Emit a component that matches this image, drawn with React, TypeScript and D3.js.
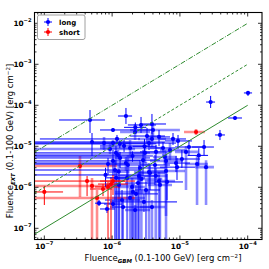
import React from 'react'
import * as d3 from 'd3'

// each burst: [GBM fluence, GBM low, GBM high, EXT fluence, EXT low, EXT high, faint]
// a low of 0 means the bar runs off the axis
const longBursts: number[][] = [
  [1.01e-4, 8.8e-5, 1.16e-4, 2.0e-4, 1.69e-4, 2.23e-4, 0],
  [2.84e-5, 2.43e-5, 3.3e-5, 1.2e-4, 8.6e-5, 1.69e-4, 0],
  [6.5e-5, 5.12e-5, 8.24e-5, 4.9e-5, 4.38e-5, 5.48e-5, 0],
  [3.9e-5, 3.3e-5, 4.62e-5, 1.89e-5, 1.42e-5, 2.5e-5, 0],
  [4.72e-7, 1.65e-7, 7.86e-7, 4.38e-5, 2.11e-5, 7.67e-5, 0],
  [1.6e-6, 1.22e-6, 1.97e-6, 5.48e-5, 3.5e-5, 8.6e-5, 0],
  [5.05e-7, 0, 6.03e-6, 1.27e-5, 5.8e-6, 2.11e-5, 0],
  [7.6e-7, 5.05e-7, 1.5e-6, 1.2e-5, 8.1e-6, 1.69e-5, 1],
  [1.03e-6, 6.63e-7, 4.01e-6, 2.5e-5, 2.23e-5, 2.79e-5, 0],
  [2.18e-6, 1.31e-6, 3.62e-6, 2.23e-5, 1.42e-5, 3.5e-5, 1],
  [2.67e-6, 1.71e-6, 4.44e-6, 3.31e-5, 2.11e-5, 5.19e-5, 0],
  [3.87e-6, 2.58e-6, 6.24e-6, 3.5e-5, 2.0e-5, 6.14e-5, 0],
  [4.01e-6, 1.84e-6, 1.0e-5, 2.5e-5, 1.69e-5, 3.5e-5, 1],
  [4.92e-6, 3.38e-6, 7.14e-6, 1.69e-5, 1.02e-5, 2.5e-5, 0],
  [3.87e-6, 2.41e-6, 6.24e-6, 1.51e-5, 9.6e-6, 2.23e-5, 1],
  [3.5e-6, 1.55e-6, 8.76e-6, 1.2e-5, 8.1e-6, 1.59e-5, 0],
  [1.03e-6, 0, 1.84e-6, 1.2e-5, 9.6e-6, 1.42e-5, 1],
  [7.91e-6, 5.08e-6, 1.23e-5, 1.51e-5, 1.08e-5, 2.11e-5, 0],
  [9.38e-6, 6.03e-6, 1.51e-5, 1.35e-5, 8.6e-6, 1.89e-5, 0],
  [4.44e-6, 2.58e-6, 7.65e-6, 7.3e-6, 4.6e-6, 1.08e-5, 0],
  [1.07e-5, 6.03e-6, 1.98e-5, 4.9e-6, 2.96e-6, 8.1e-6, 0],
  [6.24e-6, 3.62e-6, 1.11e-5, 4.4e-6, 2.0e-7, 7.3e-6, 1],
  [2.86e-6, 1.55e-6, 5.08e-6, 4.6e-6, 1.89e-6, 8.1e-6, 0],
  [3.05e-6, 1.84e-6, 5.44e-6, 6.9e-6, 3.9e-6, 1.08e-5, 1],
  [1.84e-6, 6.63e-7, 5.44e-6, 9.1e-6, 5.2e-6, 1.42e-5, 1],
  [1.14e-6, 0, 3.62e-6, 6.9e-6, 3.5e-6, 1.02e-5, 0],
  [1.03e-6, 0, 2.58e-6, 4.4e-6, 1.89e-6, 8.1e-6, 0],
  [3.27e-6, 1.84e-6, 6.03e-6, 1.78e-5, 1.2e-5, 2.79e-5, 0],
  [1.36e-5, 8.47e-6, 2.27e-5, 9.6e-6, 5.8e-6, 1.42e-5, 0],
  [2.27e-5, 1.51e-5, 3.18e-5, 9.6e-6, 6.1e-6, 1.42e-5, 0],
  [1.79e-5, 1.19e-5, 2.59e-5, 3.7e-6, 3.7e-7, 5.8e-6, 1],
  [2.43e-5, 1.67e-5, 3.18e-5, 3.1e-6, 3.7e-7, 4.6e-6, 1],
  [9.06e-6, 5.08e-6, 1.67e-5, 3.1e-6, 1.51e-6, 5.2e-6, 0],
  [6.24e-6, 3.38e-6, 1.19e-5, 2.5e-6, 0, 4.1e-6, 1],
  [3.5e-6, 2.1e-6, 6.03e-6, 2.36e-6, 0, 3.9e-6, 1],
  [2.49e-6, 1.31e-6, 5.08e-6, 1.89e-6, 0, 3.5e-6, 0],
  [4.92e-6, 3.05e-6, 8.47e-6, 1.42e-6, 0, 2.36e-6, 1],
  [6.45e-6, 4.29e-6, 1.11e-5, 1.35e-6, 4.9e-7, 2.11e-6, 0],
  [2.95e-6, 9.31e-7, 9.06e-6, 4.4e-7, 2.5e-7, 6.9e-7, 0],
  [2.25e-6, 1.1e-6, 4.75e-6, 6.9e-7, 0, 1.14e-6, 0],
  [8.76e-6, 6.03e-6, 1.41e-5, 3.9e-6, 2.36e-6, 5.8e-6, 0],
  [3.62e-6, 2.18e-6, 6.03e-6, 2.23e-6, 8.6e-7, 3.5e-6, 0],
  [5.08e-6, 3.38e-6, 7.65e-6, 1.14e-6, 0, 1.69e-6, 1],
  [2.41e-6, 1.55e-6, 4.29e-6, 1.27e-6, 0, 2.0e-6, 0],
  [2.03e-6, 1.1e-6, 3.62e-6, 7.7e-7, 0, 1.2e-6, 1],
  [1.4e-6, 7.86e-7, 2.58e-6, 4.9e-7, 0, 8.6e-7, 0],
  [1.84e-6, 9.97e-7, 3.05e-6, 5.5e-7, 0, 9.6e-7, 1],
  [3.87e-6, 2.58e-6, 6.03e-6, 3.3e-7, 0, 4.9e-7, 1],
  [1.45e-6, 9.31e-7, 3.87e-6, 3.3e-7, 0, 4.9e-7, 0],
  [1.1e-6, 0, 2.58e-6, 2.64e-6, 0, 4.6e-6, 0],
  [1.5e-6, 6.63e-7, 3.62e-6, 1.02e-5, 7.3e-6, 1.42e-5, 0],
  [1.97e-6, 1.22e-6, 3.05e-6, 1.02e-6, 0, 1.69e-6, 1],
  [1.03e-6, 7.6e-7, 1.4e-6, 3.9e-7, 3.1e-7, 4.9e-7, 0],
  [8.41e-7, 6.63e-7, 1.1e-6, 2.96e-7, 2.36e-7, 3.7e-7, 0],
  [6.41e-7, 5.6e-7, 1.07e-6, 4.1e-7, 3.5e-7, 4.9e-7, 0],
  [9.31e-7, 0, 2.18e-6, 8.6e-6, 6.5e-6, 1.14e-5, 1],
  [1.22e-6, 0, 3.05e-6, 6.1e-6, 4.6e-6, 8.1e-6, 1],
  [1.31e-6, 0, 3.62e-6, 5.2e-6, 2.96e-6, 7.3e-6, 0],
  [8.7e-7, 0, 1.55e-6, 3.7e-6, 2.0e-6, 5.2e-6, 0],
  [1.18e-6, 8.6e-8, 2.58e-6, 1.51e-5, 1.2e-5, 1.89e-5, 0],
  [1.71e-6, 9.31e-7, 3.62e-6, 3.5e-6, 1.51e-6, 6.1e-6, 1],
  [2.58e-6, 1.31e-6, 6.03e-6, 2.96e-6, 8.6e-7, 4.6e-6, 0],
  [4.29e-6, 2.58e-6, 7.14e-6, 3.5e-6, 1.14e-6, 6.1e-6, 0],
  [7.14e-6, 5.08e-6, 1.19e-5, 8.1e-6, 4.6e-6, 1.2e-5, 1],
  [1.66e-6, 9.31e-7, 3.05e-6, 1.69e-6, 0, 2.64e-6, 0],
  [1.26e-6, 7.86e-7, 2.18e-6, 1.14e-6, 0, 2.0e-6, 1],
  [3.16e-6, 2.18e-6, 5.08e-6, 8.6e-7, 0, 1.35e-6, 0],
  [2.18e-6, 1.55e-6, 3.62e-6, 2.79e-7, 0, 3.7e-7, 1],
  [5.63e-6, 3.62e-6, 8.47e-6, 9.1e-6, 5.8e-6, 1.27e-5, 0],
  [1.23e-5, 8.47e-6, 1.85e-5, 7.3e-6, 8.6e-7, 1.02e-5, 1],
  [1.3e-6, 0, 4.5e-6, 1.15e-5, 9.0e-6, 1.4e-5, 0],
  [2.0e-6, 0, 4.0e-6, 5.8e-6, 4.2e-6, 7.5e-6, 0],
  [1.6e-6, 0, 3.3e-6, 3.9e-6, 2.5e-6, 5.5e-6, 1],
  [2.7e-6, 1.2e-6, 5.5e-6, 1.6e-6, 0, 2.6e-6, 1],
  [4.4e-6, 2.9e-6, 6.5e-6, 1.9e-6, 0, 3.0e-6, 1],
  [1.15e-6, 8.0e-7, 1.6e-6, 1.7e-6, 0, 2.8e-6, 0],
  [3.0e-6, 2.0e-6, 4.5e-6, 1.0e-5, 6.5e-6, 1.5e-5, 0],
  [6.0e-6, 4.0e-6, 9.0e-6, 5.5e-6, 3.5e-6, 8.0e-6, 1],
  [1.9e-5, 1.3e-5, 2.6e-5, 6.0e-6, 3.3e-6, 9.0e-6, 0],
  [8.0e-7, 0, 2.8e-6, 2.0e-6, 1.0e-6, 3.0e-6, 0],
  [2.2e-6, 1.5e-6, 3.2e-6, 2.9e-5, 2.2e-5, 3.8e-5, 0],
  [1.25e-6, 9.0e-7, 1.8e-6, 2.4e-6, 0, 3.5e-6, 1],
]

const shortBursts: number[][] = [
  [3.36e-7, 0, 1.18e-6, 3.3e-6, 5.8e-7, 5.8e-6, 1],
  [1.0e-7, 0, 1.89e-7, 7.7e-7, 3.7e-7, 1.08e-6, 0],
  [4.27e-7, 0, 2.18e-6, 1.42e-6, 6.1e-7, 1.89e-6, 0],
  [5.05e-7, 0, 9.31e-7, 1.08e-6, 0, 1.69e-6, 1],
  [5.99e-7, 0, 2.18e-6, 5.5e-7, 0, 8.6e-7, 1],
  [8.7e-7, 5.6e-7, 1.31e-6, 1.02e-6, 0, 1.35e-6, 0],
  [1.03e-6, 6.63e-7, 1.55e-6, 1.42e-6, 6.5e-7, 2.0e-6, 0],
  [9.63e-7, 6.2e-7, 1.71e-6, 1.2e-6, 0, 1.69e-6, 0],
  [7.34e-7, 4.72e-7, 9.97e-7, 9.1e-7, 6.1e-7, 1.2e-6, 0],
  [1.73e-5, 1.15e-5, 2.34e-5, 2.23e-5, 1.89e-5, 2.64e-5, 1],
]

// EXT = k * GBM reference lines
const ratioLines = [1, 10, 100]
const ratioDash = ['none', '3,2', '5,1.5,1,1.5']

const xTicks = [1e-7, 1e-6, 1e-5, 1e-4]
const yTicks = [1e-7, 1e-6, 1e-5, 1e-4, 1e-3, 1e-2]
const xDomain = [10 ** -7.145, 10 ** -3.789]
const yDomain = [10 ** -7.273, 10 ** -1.737]

const series = [
  { name: 'long', color: '#0000ff', data: longBursts },
  { name: 'short', color: '#ff0000', data: shortBursts },
]

const font = 'DejaVu Sans, sans-serif'

const minorTicks = (dom: number[]) => {
  const out: number[] = []
  for (let e = Math.floor(Math.log10(dom[0])); e <= Math.ceil(Math.log10(dom[1])); e++) {
    for (let k = 2; k < 10; k++) {
      const v = k * 10 ** e
      if (v > dom[0] && v < dom[1]) out.push(v)
    }
  }
  return out
}

const Pow = ({ v }: { v: number }) => (
  <>
    10<tspan dy={-3.5} fontSize={5.2}>{'\u2212' + Math.abs(Math.round(Math.log10(v)))}</tspan>
  </>
)

export default function App() {
  const left = 34.5,
    right = 262,
    top = 12.5,
    bottom = 239.5

  const x = d3.scaleLog().domain(xDomain).range([left, right])
  const y = d3.scaleLog().domain(yDomain).range([bottom, top])

  // clamp error bar ends that run off the axes
  const cx = (v: number) => x(Math.min(Math.max(v, xDomain[0]), xDomain[1]))
  const cy = (v: number) => y(Math.min(Math.max(v, yDomain[0]), yDomain[1]))

  const line = d3.line<number>().x(d => x(d))
  const xEnd = [xDomain[0], 1e-4]

  const bars = (faint: number) =>
    series.map(s =>
      s.data
        .filter(d => d[6] === faint)
        .map((d, i) => (
          <g
            key={s.name + i}
            stroke={s.color}
            strokeOpacity={faint ? 0.45 : 1}
            strokeWidth={faint ? 2.6 : 1}
          >
            <line x1={cx(d[1])} x2={cx(d[2])} y1={y(d[3])} y2={y(d[3])} />
            <line x1={x(d[0])} x2={x(d[0])} y1={cy(d[4])} y2={cy(d[5])} />
          </g>
        ))
    )

  const xMinor = minorTicks(xDomain)
  const yMinor = minorTicks(yDomain)

  return (
    <svg
      width={269}
      height={269}
      style={{ position: 'absolute', left: 0, top: 0, background: '#fff' }}
      fontFamily={font}
    >
      <defs>
        <clipPath id="plot">
          <rect x={left} y={top} width={right - left} height={bottom - top} />
        </clipPath>
      </defs>

      <g clipPath="url(#plot)">
        {bars(1)}
        {bars(0)}
        {series.map(s => (
          <g key={s.name}>
            {s.data.map((d, i) => (
              <circle key={i} cx={x(d[0])} cy={y(d[3])} r={2.1} fill={s.color} />
            ))}
          </g>
        ))}
        {ratioLines.map((k, i) => (
          <path
            key={k}
            d={line.y(d => y(k * d))(xEnd) || ''}
            fill="none"
            stroke="#2e8b2e"
            strokeWidth={1}
            strokeDasharray={ratioDash[i]}
          />
        ))}
      </g>

      {/* ticks on all four sides, pointing in */}
      <g stroke="#000" strokeWidth={0.8}>
        {xTicks.map(t => (
          <g key={t}>
            <line x1={x(t)} x2={x(t)} y1={bottom} y2={bottom - 4} />
            <line x1={x(t)} x2={x(t)} y1={top} y2={top + 4} />
          </g>
        ))}
        {xMinor.map(t => (
          <g key={t}>
            <line x1={x(t)} x2={x(t)} y1={bottom} y2={bottom - 2} />
            <line x1={x(t)} x2={x(t)} y1={top} y2={top + 2} />
          </g>
        ))}
        {yTicks.map(t => (
          <g key={t}>
            <line x1={left} x2={left + 4} y1={y(t)} y2={y(t)} />
            <line x1={right} x2={right - 4} y1={y(t)} y2={y(t)} />
          </g>
        ))}
        {yMinor.map(t => (
          <g key={t}>
            <line x1={left} x2={left + 2} y1={y(t)} y2={y(t)} />
            <line x1={right} x2={right - 2} y1={y(t)} y2={y(t)} />
          </g>
        ))}
      </g>
      <rect
        x={left}
        y={top}
        width={right - left}
        height={bottom - top}
        fill="none"
        stroke="#000"
        strokeWidth={1.1}
      />

      <g fontSize={7.3} fontWeight="bold">
        {xTicks.map(t => (
          <text key={t} x={x(t)} y={bottom + 9} textAnchor="middle">
            <Pow v={t} />
          </text>
        ))}
        {yTicks.map(t => (
          <text key={t} x={left - 3} y={y(t) + 2.5} textAnchor="end">
            <Pow v={t} />
          </text>
        ))}
      </g>

      <text x={163} y={261} fontSize={8.5} textAnchor="middle">
        Fluence
        <tspan dy={2} fontSize={5.5} fontWeight="bold" fontStyle="italic">GBM</tspan>
        <tspan dy={-2}> (0.1-100 GeV) [erg cm</tspan>
        <tspan dy={-3.5} fontSize={5.5}>{'\u22122'}</tspan>
        <tspan dy={3.5}>]</tspan>
      </text>
      <text transform="translate(13,141) rotate(-90)" fontSize={8.5} textAnchor="middle">
        Fluence
        <tspan dy={2} fontSize={5.5} fontWeight="bold" fontStyle="italic">EXT</tspan>
        <tspan dy={-2}> (0.1-100 GeV) [erg cm</tspan>
        <tspan dy={-3.5} fontSize={5.5}>{'\u22122'}</tspan>
        <tspan dy={3.5}>]</tspan>
      </text>

      {/* legend */}
      <rect x={37.5} y={15} width={47.5} height={24.5} rx={2} fill="#fff" stroke="#888" strokeWidth={0.8} />
      {series.map((s, i) => (
        <g key={s.name} transform={`translate(48,${22 + i * 10})`}>
          <line x1={-4} x2={4} stroke={s.color} strokeWidth={1} />
          <line y1={-4} y2={4} stroke={s.color} strokeWidth={1} />
          <circle r={2.1} fill={s.color} />
          <text x={11} y={2.5} fontSize={7} fontWeight="bold">
            {s.name}
          </text>
        </g>
      ))}
    </svg>
  )
}
